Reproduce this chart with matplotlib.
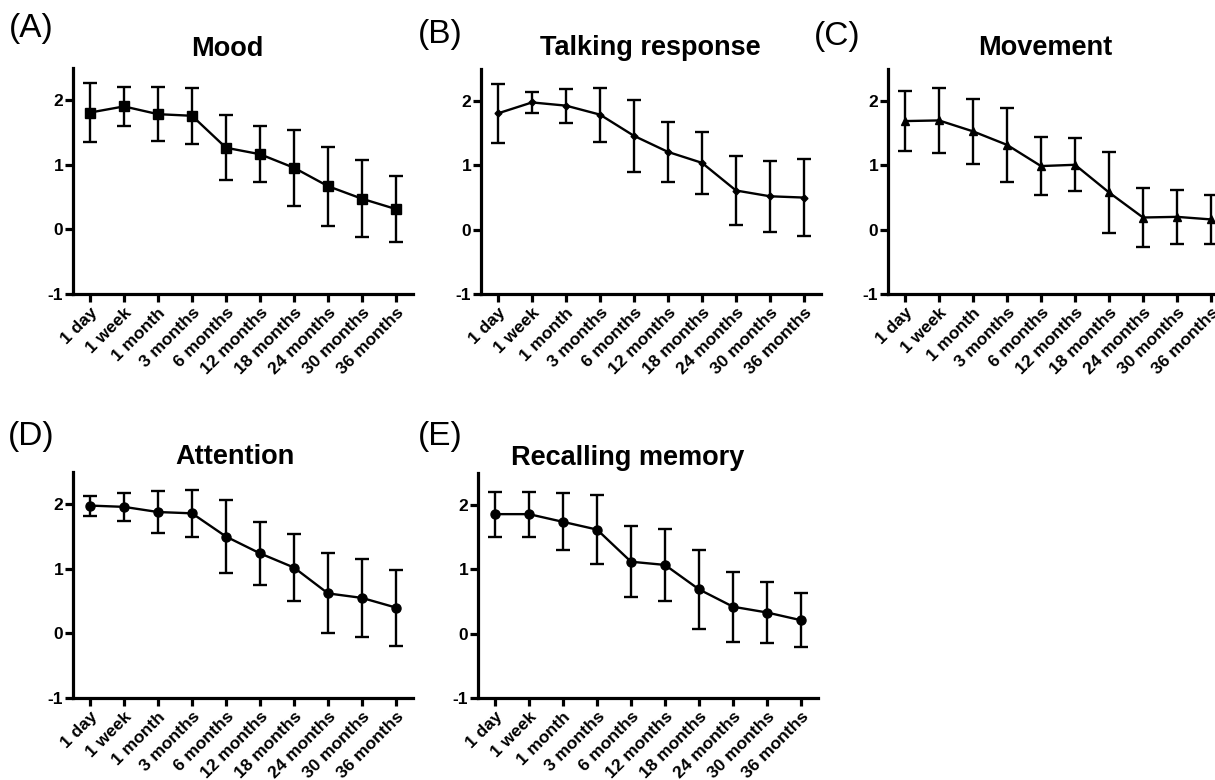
import numpy as np
import matplotlib
matplotlib.use("Agg")
import matplotlib.pyplot as plt

plt.rcParams['font.family'] = ['Liberation Sans', 'DejaVu Sans']
plt.rcParams['axes.unicode_minus'] = False

timepoints = ["1 day", "1 week", "1 month", "3 months", "6 months",
              "12 months", "18 months", "24 months", "30 months", "36 months"]

mood_mean = [1.81, 1.905, 1.785, 1.76, 1.265, 1.165, 0.955, 0.67, 0.475, 0.315]
mood_sd = [0.46, 0.30, 0.415, 0.43, 0.50, 0.435, 0.585, 0.61, 0.595, 0.515]

talk_mean = [1.81, 1.98, 1.93, 1.79, 1.46, 1.21, 1.04, 0.61, 0.52, 0.50]
talk_sd = [0.455, 0.16, 0.265, 0.42, 0.555, 0.47, 0.485, 0.54, 0.55, 0.595]

move_mean = [1.69, 1.70, 1.53, 1.32, 0.99, 1.01, 0.58, 0.19, 0.20, 0.16]
move_sd = [0.465, 0.505, 0.505, 0.57, 0.445, 0.415, 0.625, 0.455, 0.42, 0.38]

attn_mean = [1.98, 1.96, 1.88, 1.86, 1.50, 1.24, 1.02, 0.62, 0.55, 0.40]
attn_sd = [0.155, 0.215, 0.325, 0.36, 0.56, 0.485, 0.52, 0.62, 0.60, 0.59]

mem_mean = [1.86, 1.86, 1.74, 1.62, 1.12, 1.07, 0.69, 0.42, 0.33, 0.21]
mem_sd = [0.35, 0.35, 0.445, 0.54, 0.555, 0.565, 0.61, 0.545, 0.48, 0.42]

W, H = 1215, 780
fig = plt.figure(figsize=(W / 100, H / 100), dpi=100)

# (label, title, mean, sd, marker, markersize, axes left/top/bottom px, title center px, label center px)
panels = [
    ("(A)", "Mood", mood_mean, mood_sd, "s", 6.5, (73, 68, 294), (227, 49), (31, 29)),
    ("(B)", "Talking response", talk_mean, talk_sd, "D", 3.5, (481, 69, 294), (650, 48), (440, 35)),
    ("(C)", "Movement", move_mean, move_sd, "^", 6, (888, 69, 294), (1045, 48), (837, 37)),
    ("(D)", "Attention", attn_mean, attn_sd, "o", 6.5, (73, 472, 698), (235, 457), (31, 437)),
    ("(E)", "Recalling memory", mem_mean, mem_sd, "o", 6.5, (478, 473, 698), (628, 458), (440, 437)),
]

x = np.arange(len(timepoints))
for lab, title, mean, sd, mk, ms, (l, t, b), (tx, ty), (lx, ly) in panels:
    ax = fig.add_axes([l / W, 1 - b / H, 340 / W, (b - t) / H])
    ax.errorbar(x, mean, yerr=sd, color="black", marker=mk, markersize=ms,
                linewidth=1.7, elinewidth=1.7, capsize=5, capthick=1.7, clip_on=False)
    ax.set_xlim(-0.5, 9.5)
    ax.set_ylim(-1, 2.5)
    ax.set_yticks([-1, 0, 1, 2])
    ax.set_xticks(x)
    ax.set_xticklabels(timepoints, rotation=45, ha="right", rotation_mode="anchor",
                       fontsize=12.5, fontweight="bold")
    for tl in ax.get_yticklabels():
        tl.set_fontsize(12.5)
        tl.set_fontweight("bold")
    for s in ["top", "right"]:
        ax.spines[s].set_visible(False)
    for s in ["left", "bottom"]:
        ax.spines[s].set_linewidth(2.3)
    ax.tick_params(width=2.3, length=6, pad=1)
    ax.tick_params(axis="x", pad=2)
    fig.text(tx / W, 1 - ty / H, title, ha="center", va="center",
             fontsize=19.5, fontweight="bold")
    fig.text(lx / W, 1 - ly / H, lab, ha="center", va="center", fontsize=24)

plt.savefig("out.png", dpi=100)
plt.close()
